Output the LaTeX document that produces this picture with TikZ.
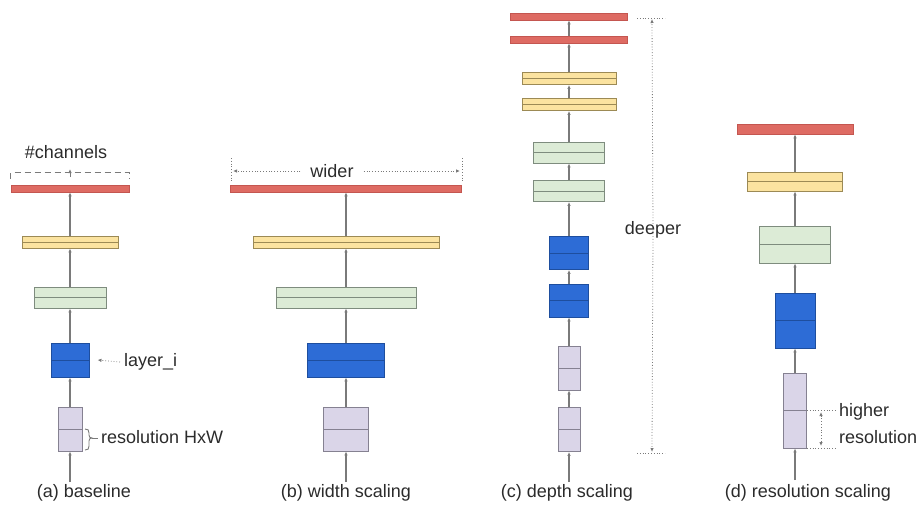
\documentclass[tikz,border=0pt]{standalone}
\usepackage{fontspec}
\setmainfont{Liberation Sans}
\usetikzlibrary{arrows.meta}
\definecolor{redf}{HTML}{DE6B63}
\definecolor{redd}{HTML}{C45650}
\definecolor{yelf}{HTML}{FBE3A0}
\definecolor{yeld}{HTML}{9C8A55}
\definecolor{grnf}{HTML}{DCEBD6}
\definecolor{grnd}{HTML}{7E8C7E}
\definecolor{bluf}{HTML}{2D6CD6}
\definecolor{blud}{HTML}{1E4E9E}
\definecolor{lavf}{HTML}{DAD5E8}
\definecolor{lavd}{HTML}{858191}
\definecolor{txt}{HTML}{2B2B2B}
\definecolor{ln}{HTML}{7A7A7A}
\tikzset{
  lay/.style={draw, rectangle, inner sep=0pt, line width=0.9pt,
    path picture={\draw[line width=0.9pt] (path picture bounding box.west) -- (path picture bounding box.east);}},
  redbar/.style={rectangle, inner sep=0pt, fill=redf, draw=redd, line width=0.6pt, minimum height=7pt},
  yelbox/.style={lay, fill=yelf, draw=yeld, minimum height=12pt},
  grnbox/.style={lay, fill=grnf, draw=grnd, minimum height=21pt},
  blubox/.style={lay, fill=bluf, draw=blud, minimum height=34pt},
  lavbox/.style={lay, fill=lavf, draw=lavd, minimum height=44pt},
  conn/.style={draw=ln, line width=1.1pt, -{Latex[length=4pt,width=3.5pt]}},
  dots/.style={draw=ln, line width=0.8pt, dotted},
  dotar/.style={dots, -{Latex[length=4pt,width=3.5pt]}},
  lbl/.style={text=txt, font=\fontsize{18}{21}\selectfont, inner sep=0pt},
}
\begin{document}
\begin{tikzpicture}[x=1pt,y=-1pt]
\useasboundingbox (0,0) rectangle (923,506);
% ---------- (a) baseline ----------
\coordinate (a0) at (70,482);
\node[lavbox, minimum width=24pt] (a1) at (70,429) {};
\node[blubox, minimum width=38pt] (a2) at (70,360) {};
\node[grnbox, minimum width=72pt] (a3) at (70,297.5) {};
\node[yelbox, minimum width=96pt] (a4) at (70,242) {};
\node[redbar, minimum width=118pt] (a5) at (70,188.5) {};
\draw[conn] (a0) -- (a1);
\draw[conn] (a1) -- (a2);
\draw[conn] (a2) -- (a3);
\draw[conn] (a3) -- (a4);
\draw[conn] (a4) -- (a5);
\node[lbl] (chan) at (66,152) {\#channels};
\draw[draw=ln, line width=1pt, dash pattern=on 6pt off 4pt] ([yshift=6pt]a5.north west) -- ([yshift=12pt]a5.north west) -| ([yshift=6pt]a5.north east);
\draw[draw=ln, line width=0.8pt, -{Latex[length=4pt,width=3.5pt]}] (70,177) -- (70,169);
\node[lbl, anchor=west] (layi) at (124,362) {layer\_i};
\draw[dotar] ([xshift=-4pt]layi.west) -- ([xshift=8pt]a2.east);
\node[lbl, anchor=west] (resa) at (101,437) {resolution HxW};
\draw[draw=ln, line width=0.9pt]
  (85,429) .. controls (88,429) and (89,430) .. (89,433) -- (89,435) .. controls (89,437) and (90,438) .. (92,438)
  .. controls (90,438) and (89,439) .. (89,441) -- (89,446) .. controls (89,449) and (88,450) .. (85,450);
\draw[draw=ln, line width=0.9pt] (92,438) -- (98,438);
\node[lbl] (capa) at (84,493) {(a) baseline};
% ---------- (b) width scaling ----------
\coordinate (b0) at (346,482);
\node[lavbox, minimum width=45pt] (b1) at (346,429) {};
\node[blubox, minimum width=77pt] (b2) at (346,360) {};
\node[grnbox, minimum width=140pt] (b3) at (346,297.5) {};
\node[yelbox, minimum width=186pt] (b4) at (346,242) {};
\node[redbar, minimum width=231pt] (b5) at (346,188.5) {};
\draw[conn] (b0) -- (b1);
\draw[conn] (b1) -- (b2);
\draw[conn] (b2) -- (b3);
\draw[conn] (b3) -- (b4);
\draw[conn] (b4) -- (b5);
\node[lbl] (wider) at (332,171) {wider};
\draw[dots] (231,158) -- (231,183);
\draw[dots] (462,158) -- (462,183);
\draw[dotar] ([xshift=-10pt]wider.west) -- (233,171);
\draw[dotar] ([xshift=10pt]wider.east) -- (460,171);
\node[lbl] (capb) at (346,493) {(b) width scaling};
% ---------- (c) depth scaling ----------
\coordinate (c0) at (569,482);
\node[lavbox, minimum width=22pt] (c1) at (569,429.5) {};
\node[lavbox, minimum width=22pt] (c2) at (569,368) {};
\node[blubox, minimum width=39pt, minimum height=33pt] (c3) at (569,300.5) {};
\node[blubox, minimum width=39pt, minimum height=33pt] (c4) at (569,253) {};
\node[grnbox, minimum width=71pt] (c5) at (569,191) {};
\node[grnbox, minimum width=71pt] (c6) at (569,152.5) {};
\node[yelbox, minimum width=94pt, minimum height=12pt] (c7) at (569,104.5) {};
\node[yelbox, minimum width=94pt, minimum height=12pt] (c8) at (569,78.5) {};
\node[redbar, minimum width=117pt] (c9) at (569,39.5) {};
\node[redbar, minimum width=117pt] (c10) at (569,16.5) {};
\draw[conn] (c0) -- (c1);
\draw[conn] (c1) -- (c2);
\draw[conn] (c2) -- (c3);
\draw[conn] (c3) -- (c4);
\draw[conn] (c4) -- (c5);
\draw[conn] (c5) -- (c6);
\draw[conn] (c6) -- (c7);
\draw[conn] (c7) -- (c8);
\draw[conn] (c8) -- (c9);
\draw[conn] (c9) -- (c10);
\node[lbl] (deeper) at (653,230) {deeper};
\draw[dots] (637,18) -- (665,18);
\draw[dots] (637,453) -- (665,453);
\draw[dotar] ([yshift=-8pt]deeper.north) -- (652,19);
\draw[dotar] ([yshift=8pt]deeper.south) -- (652,452);
\node[lbl] (capc) at (567,493) {(c) depth scaling};
% ---------- (d) resolution scaling ----------
\coordinate (d0) at (795,480);
\node[lavbox, minimum width=23pt, minimum height=75pt] (d1) at (795,410.5) {};
\node[blubox, minimum width=40pt, minimum height=55pt] (d2) at (795,320.5) {};
\node[grnbox, minimum width=71pt, minimum height=37pt] (d3) at (795,244.5) {};
\node[yelbox, minimum width=95pt, minimum height=19pt] (d4) at (795,181.5) {};
\node[redbar, minimum width=116pt, minimum height=10pt] (d5) at (795,129) {};
\draw[conn] (d0) -- (d1);
\draw[conn] (d1) -- (d2);
\draw[conn] (d2) -- (d3);
\draw[conn] (d3) -- (d4);
\draw[conn] (d4) -- (d5);
\draw[dots] (d1.east) -- ++(30,0);
\draw[dots] (d1.south east) -- ++(30,0);
\draw[dots, {Latex[length=4pt,width=3.5pt]}-{Latex[length=4pt,width=3.5pt]}] (821,412) -- (821,446);
\node[lbl, anchor=west] (hi) at (839,412) {higher};
\node[lbl, anchor=west] (res) at (839,437) {resolution};
\node[lbl] (capd) at (808,493) {(d) resolution scaling};
\end{tikzpicture}
\end{document}
